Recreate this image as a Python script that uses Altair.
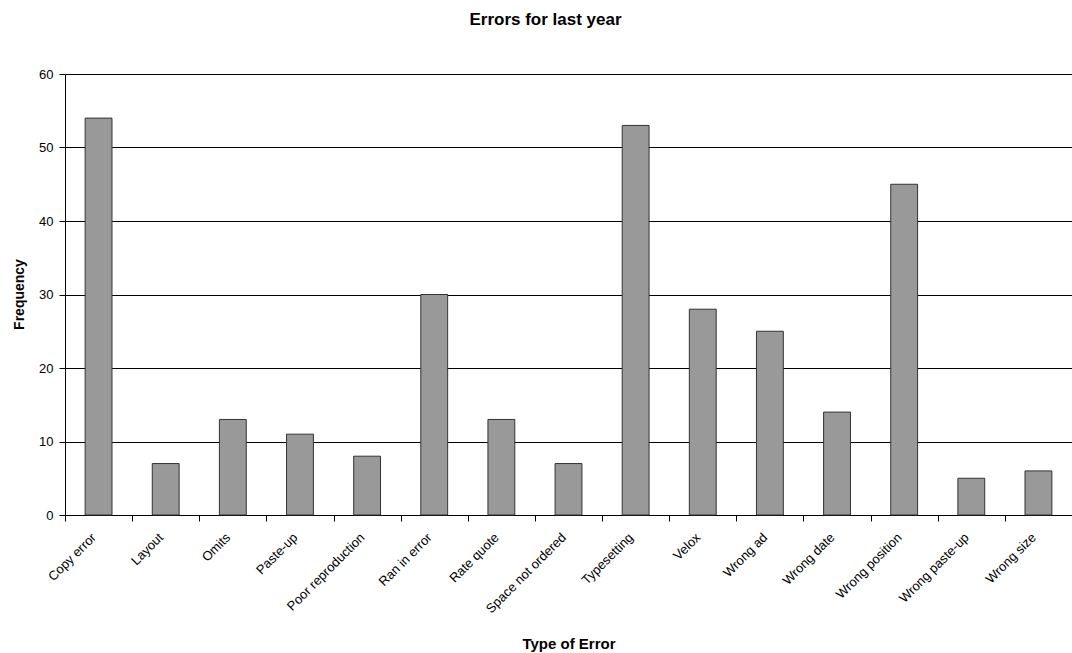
import altair as alt
import pandas as pd

categories = [
    "Copy error", "Layout", "Omits", "Paste-up", "Poor reproduction",
    "Ran in error", "Rate quote", "Space not ordered", "Typesetting", "Velox",
    "Wrong ad", "Wrong date", "Wrong position", "Wrong  paste-up", "Wrong size",
]
frequency = [54, 7, 13, 11, 8, 30, 13, 7, 53, 28, 25, 14, 45, 5, 6]
y_ticks = [0, 10, 20, 30, 40, 50, 60]

df = pd.DataFrame({"error": categories, "freq": frequency})

FONT = "Liberation Sans"

chart = (
    alt.Chart(df)
    .mark_bar(
        color="#999999",
        stroke="#333333",
        strokeWidth=1,
        width=alt.RelativeBandSize(0.4),
    )
    .encode(
        x=alt.X(
            "error:N",
            sort=categories,
            scale=alt.Scale(paddingInner=0, paddingOuter=0),
            axis=alt.Axis(
                title="Type of Error",
                labelAngle=-45,
                labelAlign="right",
                labelBaseline="middle",
                labelFontSize=13,
                labelPadding=14,
                labelOffset=-5,
                tickBand="extent",
                tickSize=6,
                tickColor="#000000",
                domainColor="#000000",
                labelColor="#000000",
                titleFontSize=15,
                titleFontWeight="bold",
                titleY=128,
                titleBaseline="middle",
            ),
        ),
        y=alt.Y(
            "freq:Q",
            scale=alt.Scale(domain=[0, 60], nice=False),
            axis=alt.Axis(
                title="Frequency",
                values=y_ticks,
                grid=True,
                gridColor="#000000",
                gridOpacity=1,
                tickSize=6,
                tickColor="#000000",
                domainColor="#000000",
                labelColor="#000000",
                labelFontSize=13,
                labelPadding=6,
                titleFontSize=14,
                titleFontWeight="bold",
                titleX=-46,
                titleY=220,
                titleBaseline="middle",
            ),
        ),
    )
    .properties(
        width=1007,
        height=441,
        autosize=alt.AutoSizeParams(type="none"),
        padding={"left": 65, "top": 74, "right": 0, "bottom": 138},
        title=alt.TitleParams(
            "Errors for last year",
            fontSize=17,
            fontWeight="bold",
            font=FONT,
            offset=39,
            anchor="middle",
            dx=-23,
        ),
    )
    .configure(font=FONT)
    .configure_view(stroke=None)
)

chart.save("out.html", embed_options={"renderer": "svg", "actions": False})
